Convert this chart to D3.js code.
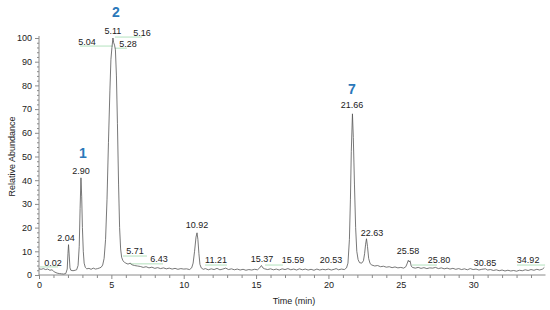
<!DOCTYPE html>
<html><head><meta charset="utf-8">
<script src="https://cdn.jsdelivr.net/npm/d3@7"></script>
<style>body{margin:0;background:#fff}svg{display:block;font-family:Arial,"Liberation Sans",sans-serif}</style>
</head><body><svg id="c" width="550" height="310"></svg>
<script>
// chromatogram trace (time in min, relative abundance %)
const times = [0.00,0.15,0.3,0.45,0.6,0.75,0.9,1.0,1.1,1.25,1.4,1.55,1.7,1.85,1.95,2.00,2.04,2.09,2.14,2.2,2.35,2.5,2.6,2.7,2.78,2.84,2.90,2.95,3.0,3.06,3.12,3.2,3.3,3.45,3.6,3.75,3.9,4.05,4.2,4.3,4.4,4.5,4.6,4.7,4.8,4.9,4.97,5.04,5.11,5.16,5.22,5.28,5.35,5.42,5.5,5.57,5.64,5.71,5.8,5.9,6.0,6.15,6.3,6.43,6.6,6.8,7.0,7.2,7.4,7.6,7.8,8.0,8.2,8.4,8.6,8.8,9.0,9.2,9.4,9.6,9.8,10.0,10.2,10.4,10.55,10.65,10.75,10.85,10.92,10.98,11.05,11.12,11.21,11.35,11.5,11.7,11.9,12.1,12.3,12.5,12.7,12.9,13.1,13.3,13.5,13.7,13.9,14.1,14.3,14.5,14.7,14.9,15.1,15.25,15.37,15.47,15.59,15.8,16.0,16.2,16.4,16.6,16.8,17.0,17.2,17.4,17.6,17.8,18.0,18.2,18.4,18.6,18.8,19.0,19.2,19.4,19.6,19.8,20.0,20.2,20.4,20.53,20.7,20.9,21.1,21.25,21.35,21.45,21.52,21.58,21.66,21.72,21.8,21.88,21.96,22.05,22.15,22.3,22.42,22.5,22.57,22.63,22.7,22.78,22.88,23.0,23.2,23.4,23.6,23.8,24.0,24.2,24.4,24.6,24.8,25.0,25.2,25.35,25.45,25.52,25.58,25.64,25.72,25.8,26.0,26.2,26.4,26.6,26.8,27.0,27.2,27.4,27.6,27.8,28.0,28.2,28.4,28.6,28.8,29.0,29.2,29.4,29.6,29.8,30.0,30.2,30.4,30.6,30.85,31.0,31.2,31.4,31.6,31.8,32.0,32.2,32.4,32.6,32.8,33.0,33.2,33.4,33.6,33.8,34.0,34.2,34.4,34.6,34.8,34.92];
const abundance = [2.6,2.4,2.7,2.3,2.5,2.0,2.2,1.6,1.2,0.8,0.6,0.5,0.4,0.6,2.5,9,12.8,8,3,2.0,1.8,2.0,2.2,4,12,28,41,33,20,10,5,3.2,2.6,2.8,2.4,2.9,2.5,2.7,3.0,3.3,4.2,7,15,32,56,78,91,96,100,98,97,95,84,64,38,20,11,7.5,6,5.4,5.0,4.6,5.0,4.3,4.0,3.8,3.6,3.2,3.5,3.0,3.3,2.8,3.1,2.7,3.0,2.6,2.9,2.5,2.8,2.4,2.7,2.5,2.6,2.3,3.0,5,10,16,17.8,15,9,4.5,3.0,2.4,2.7,2.2,2.6,2.3,2.8,2.2,2.5,2.9,2.3,2.6,2.2,2.5,2.1,2.4,2.0,2.3,2.1,2.4,2.2,3.0,4.0,3.0,2.6,2.3,2.6,2.2,2.5,2.1,2.6,2.3,2.7,2.2,2.5,2.1,2.6,2.2,2.5,2.1,2.4,2.0,2.5,2.1,2.4,2.2,2.5,2.1,2.4,2.7,2.2,2.5,2.3,3.0,5,15,32,52,68,58,38,20,10,6.5,5.2,5.0,6,9,13,15.3,12,7,4.8,4.2,3.8,4.0,3.5,3.7,3.3,3.5,3.1,3.4,3.0,3.2,2.9,3.5,5,6.2,5.5,6,3.8,3.2,2.9,3.2,2.8,3.1,2.7,3.0,2.9,3.2,2.7,3.0,2.6,2.9,2.5,2.8,2.4,2.7,2.3,2.6,2.2,2.7,2.3,2.5,2.1,2.4,2.6,2.1,2.3,1.9,2.2,1.8,2.1,1.7,2.0,1.7,1.9,1.6,2.0,1.8,2.2,1.9,2.3,2.0,2.4,2.1,2.5,3.2];

// peak retention-time labels: text, label time, label height
const peakLabels = ["0.02","2.04","2.90","5.04","5.11","5.16","5.28","5.71","6.43","10.92","11.21","15.37","15.59","20.53","21.66","22.63","25.58","25.80","30.85","34.92"];
const peakLabelT = [0.97,1.87,2.9,3.32,5.11,7.12,6.15,6.63,8.29,10.92,12.23,15.41,17.55,20.18,21.63,23.01,25.5,27.64,30.82,33.8];
const peakLabelV = [3.8,14.3,42.6,97.0,101.7,100.8,96.2,8.9,5.5,19.8,5.1,5.5,5.1,5.1,70.5,16.5,8.9,5.1,3.8,5.1];

// compound numbers
const compoundLabels = ["1","2","7"];
const compoundT = [3.04,5.32,21.63];
const compoundV = [49.4,109,76.4];

// green connector lines [t1, t2, v]
const connT1 = [0.07,2.83,5.25,5.25,5.8,6.29,11.47,15.62,25.78,33.03];
const connT2 = [1.31,5.11,7.12,6.08,7.46,8.57,12.99,16.86,27.5,34.97];
const connV  = [3.4,96.6,100.4,95.7,8.0,4.7,4.2,4.2,4.2,4.2];

const xTicks = [0,5,10,15,20,25,30];
const yTicks = [0,10,20,30,40,50,60,70,80,90,100];

const svg = d3.select("#c");
const x = d3.scaleLinear().domain([0,35]).range([39,545.5]);
const y = d3.scaleLinear().domain([0,100]).range([275,38]);
const axisCol = "#8a8a8a", txtCol = "#222";

// axes
const gx = svg.append("g").attr("transform",`translate(0,${y(0)})`)
  .call(d3.axisBottom(x).tickValues(xTicks).tickSize(4).tickPadding(3).tickFormat(d3.format("d")));
gx.select(".domain").attr("stroke",axisCol).attr("d",`M${x(0)},0H${x(35)}`);
gx.selectAll(".tick line").attr("stroke",axisCol);
gx.selectAll("text").attr("fill",txtCol).style("font-size","9px").style("font-family","Arial, 'Liberation Sans', sans-serif");
const gxm = svg.append("g").attr("transform",`translate(0,${y(0)})`)
  .call(d3.axisBottom(x).tickValues(d3.range(0,35,1).filter(v=>v%5)).tickSize(3).tickFormat(""));
gxm.select(".domain").remove();
gxm.selectAll(".tick line").attr("stroke",axisCol);

const gy = svg.append("g").attr("transform",`translate(${x(0)},0)`)
  .call(d3.axisLeft(y).tickValues(yTicks).tickSize(4).tickPadding(3));
gy.select(".domain").attr("stroke",axisCol).attr("d",`M0,${y(0)}V${y(100)-2}`);
gy.selectAll(".tick line").attr("stroke",axisCol);
gy.selectAll("text").attr("fill",txtCol).style("font-size","9px").style("font-family","Arial, 'Liberation Sans', sans-serif");
const gym = svg.append("g").attr("transform",`translate(${x(0)},0)`)
  .call(d3.axisLeft(y).tickValues(d3.range(0,100,2).filter(v=>v%10)).tickSize(2).tickFormat(""));
gym.select(".domain").remove();
gym.selectAll(".tick line").attr("stroke",axisCol);

svg.append("text").attr("x",294).attr("y",304).attr("text-anchor","middle")
  .attr("fill",txtCol).style("font-size","9px").text("Time (min)");
svg.append("text").attr("transform",`translate(15,${(y(0)+y(100))/2}) rotate(-90)`).attr("text-anchor","middle")
  .attr("fill",txtCol).style("font-size","9px").text("Relative Abundance");

// connectors
svg.append("g").selectAll("line").data(connV).join("line")
  .attr("x1",(d,i)=>x(connT1[i])).attr("x2",(d,i)=>x(connT2[i]))
  .attr("y1",d=>y(d)).attr("y2",d=>y(d))
  .attr("stroke","#9fd9ac").attr("stroke-width",0.8);

// trace
const pts = times.map((t,i)=>[t,abundance[i]]);
svg.append("path").datum(pts)
  .attr("d",d3.line().x(d=>x(d[0])).y(d=>y(d[1])))
  .attr("fill","none").attr("stroke","#555").attr("stroke-width",0.8);

// peak labels
svg.append("g").selectAll("text").data(peakLabels).join("text")
  .attr("x",(d,i)=>x(peakLabelT[i])).attr("y",(d,i)=>y(peakLabelV[i]))
  .attr("text-anchor","middle").attr("fill",txtCol).style("font-size","9px").text(d=>d);

svg.append("g").selectAll("text").data(compoundLabels).join("text")
  .attr("x",(d,i)=>x(compoundT[i])).attr("y",(d,i)=>y(compoundV[i]))
  .attr("text-anchor","middle").attr("fill","#2a78ba").style("font-size","14px").style("font-weight","bold").text(d=>d);
</script></body></html>
